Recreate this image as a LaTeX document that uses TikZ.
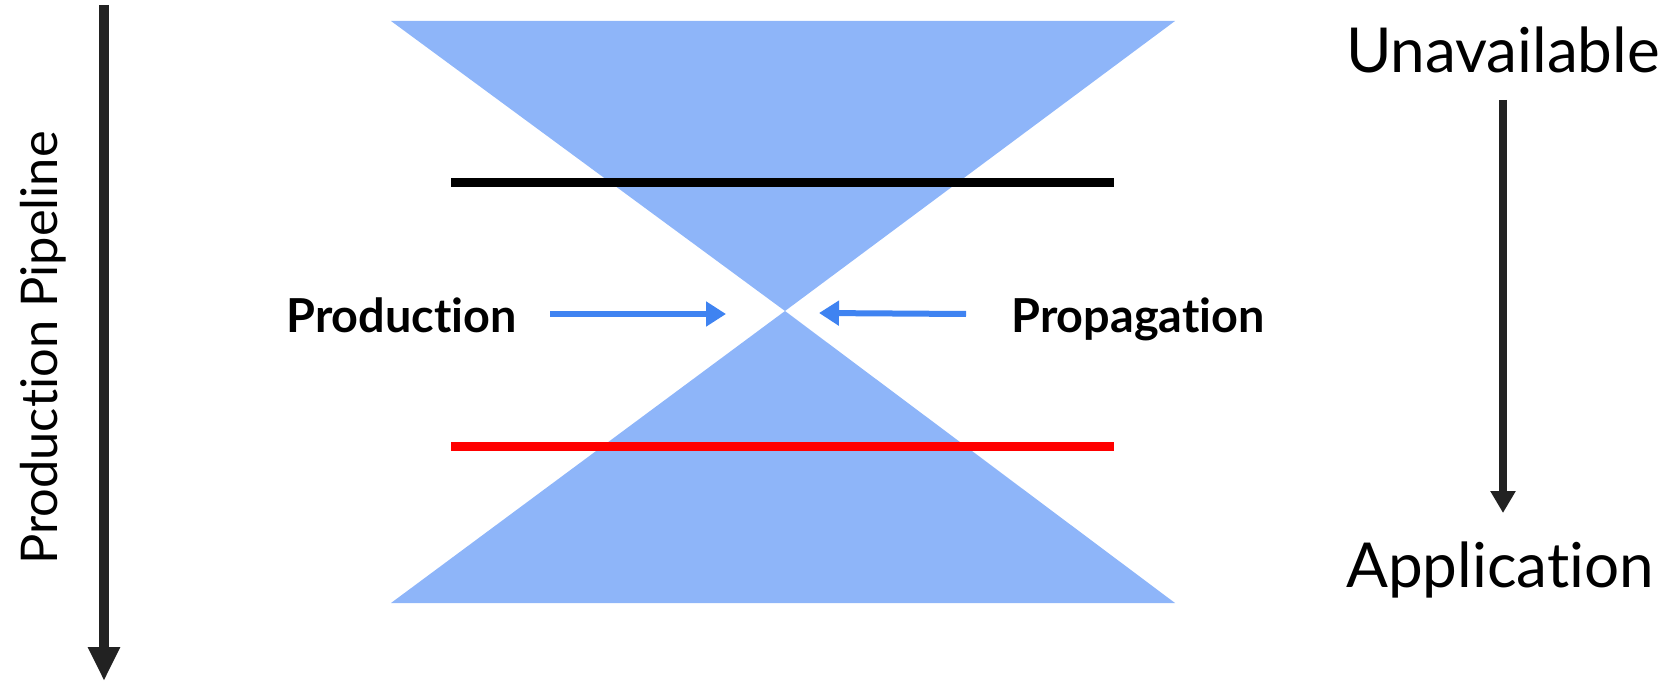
\documentclass[tikz,border=0pt]{standalone}
\usepackage{fontspec}
\setmainfont{Lato}[RawFeature=-liga]
\usetikzlibrary{arrows.meta}
\definecolor{conefill}{HTML}{8EB5F9}
\definecolor{bluearrow}{HTML}{3F83F1}
\definecolor{darkarrow}{HTML}{222222}
\definecolor{redline}{HTML}{FF0000}
\begin{document}
\begin{tikzpicture}[x=0.5pt,y=-0.5pt,
  cone/.style={fill=conefill,draw=none},
  barline/.style={line width=4.5pt},
  darkbig/.style={draw=darkarrow,line width=5pt,-{Triangle[width=15pt,length=17pt]}},
  darksmall/.style={draw=darkarrow,line width=3.6pt,-{Triangle[width=12pt,length=11pt]}},
  bluearr/.style={draw=bluearrow,line width=3pt,-{Triangle[width=12pt,length=10pt]}},
  biglabel/.style={font=\fontsize{31}{35}\selectfont,inner sep=0pt},
  boldlabel/.style={font=\fontsize{23.4}{27}\selectfont\bfseries,inner sep=0pt},
  sidelabel/.style={font=\fontsize{25.3}{29}\selectfont,inner sep=0pt,rotate=90}]
\useasboundingbox (0,0) rectangle (1680,684);
% cones
\coordinate (apex) at (785,311);
\coordinate (tl) at (391,21);
\coordinate (tr) at (1175,21);
\coordinate (bl) at (391,603);
\coordinate (br) at (1175,603);
\fill[cone] (tl) -- (tr) -- (apex) -- cycle;
\fill[cone] (apex) -- (br) -- (bl) -- cycle;
% horizontal lines
\coordinate (k1) at (451,183);
\coordinate (k2) at (1114,183);
\coordinate (r1) at (451,446);
\coordinate (r2) at (1114,446);
\draw[barline,black] (k1) -- (k2);
\draw[barline,redline] (r1) -- (r2);
% left pipeline arrow
\coordinate (lp1) at (104,5);
\coordinate (lp2) at (104,681);
\draw[darkbig] (lp1) -- (lp2);
\node[sidelabel,anchor=base] (pipe) at (57,348) {Production Pipeline};
% right labels and arrow
\node[biglabel,anchor=base] (unav) at (1503,73) {Unavailable};
\node[biglabel,anchor=base] (appl) at (1500,587) {Application};
\coordinate (ra1) at (1503,100);
\coordinate (ra2) at (1503,513);
\draw[darksmall] (ra1) -- (ra2);
% middle labels
\node[boldlabel,anchor=base west] (prod) at (286,332) {Production};
\node[boldlabel,anchor=base west] (prop) at (1011,332) {Propagation};
\coordinate (pa1) at (550,314);
\coordinate (pa2) at (726,314);
\coordinate (pb1) at (966,314);
\coordinate (pb2) at (819,313);
\draw[bluearr] (pa1) -- (pa2);
\draw[bluearr] (pb1) -- (pb2);
\end{tikzpicture}
\end{document}
